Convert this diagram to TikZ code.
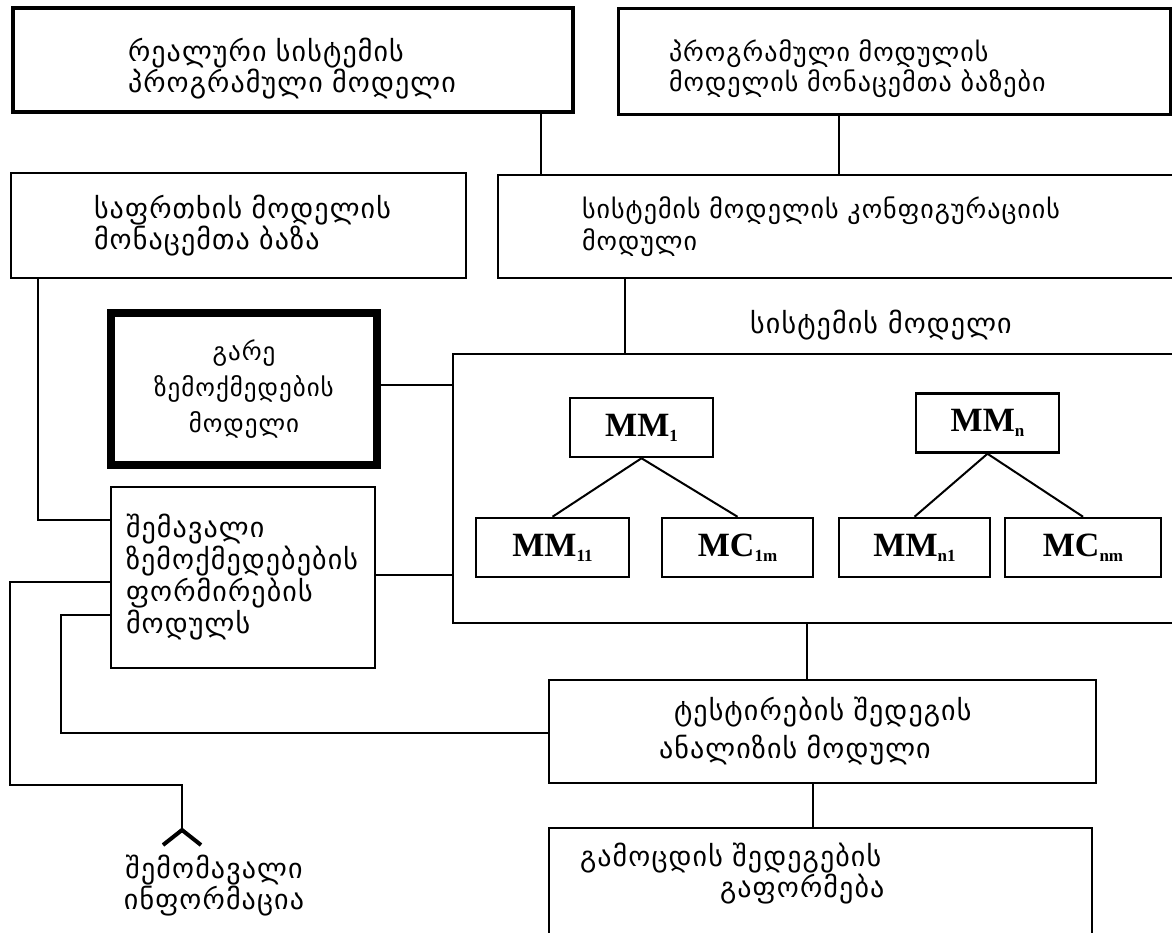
\documentclass[tikz,border=0pt]{standalone}
\usepackage{fontspec}
\setmainfont{Liberation Serif}
\newfontfamily\geofont[LetterSpace=4]{DejaVu Sans}
\usetikzlibrary{arrows.meta}
\newcommand{\mmsub}[1]{\raisebox{-5pt}{\fontsize{17pt}{17pt}\selectfont #1}}
\tikzset{
  geo/.style 2 args={font=\geofont\fontsize{#1}{#2}\selectfont},
  box/.style={draw, line width=2.5pt, inner sep=0pt, align=left},
  mm/.style={draw, line width=2.5pt, inner sep=0pt, minimum height=59pt,
    font=\bfseries\fontsize{34pt}{36pt}\selectfont},
  wire/.style={draw, line width=2pt},
}
\begin{document}
\begin{tikzpicture}[x=1pt,y=-1pt]
  \useasboundingbox (0,0) rectangle (1172,933);

  \node[box, line width=4pt, geo={28pt}{30pt}, minimum width=560pt, minimum height=104pt,
    text width=330pt, inner xsep=115pt] (rsm) at (293,60)
    {\rule{0pt}{40pt}რეალური~სისტემის\\პროგრამული~მოდელი};
  \node[box, line width=3pt, geo={26pt}{30pt}, minimum width=552pt, minimum height=106pt,
    text width=450pt, inner xsep=51pt] (pmdb) at (894,62)
    {\rule{0pt}{36pt}პროგრამული~მოდულის\\მოდელის~მონაცემთა~ბაზები};
  \node[box, geo={28pt}{26pt}, minimum width=455pt, minimum height=105pt,
    text width=289pt, inner xsep=83pt] (threat) at (238.5,225.5)
    {საფრთხის~მოდელის\\მონაცემთა~ბაზა};
  \node[box, geo={26pt}{32pt}, minimum width=702pt, minimum height=103pt,
    text width=534pt, inner xsep=84pt] (cfg) at (849,226.5)
    {სისტემის~მოდელის~კონფიგურაციის\\მოდული};
  \node[box, line width=8pt, geo={25pt}{36pt}, align=center, minimum width=266pt,
    minimum height=152pt] (ext) at (244,389)
    {გარე\\ზემოქმედების\\მოდელი};
  \node[box, geo={28pt}{32pt}, minimum width=264pt, minimum height=181pt,
    text width=234pt, inner xsep=15pt] (input) at (243,577.5)
    {შემავალი\\ზემოქმედებების\\ფორმირების\\მოდულს};
  \node[box, minimum width=747pt, minimum height=269pt] (sys) at (826.5,488.5) {};
  \node[geo={28pt}{30pt}] (sysLabel) at (881,325) {სისტემის~მოდელი};
  \node[box, geo={28pt}{38pt}, minimum width=547pt, minimum height=103pt,
    text width=327pt, inner xsep=110pt] (ana) at (822.5,731.5)
    {\hspace*{15pt}ტესტირების~შედეგის\\ანალიზის~მოდული};
  \node[box, geo={28pt}{28pt}, minimum width=543pt, minimum height=107pt,
    text width=481pt, inner xsep=31pt] (out) at (820.5,881.5)
    {გამოცდის~შედეგების\\\hspace*{140pt}გაფორმება\rule[-22pt]{0pt}{1pt}};
  \node[geo={28pt}{30pt}, align=center] (inf) at (214,886) {შემომავალი\\ინფორმაცია};

  \def \Mods {
    MM1/641.5/427.5/143/MM\mmsub{1},
    MMn/987.5/423/143/MM\mmsub{n},
    MM11/552.5/547.5/153/MM\mmsub{11},
    MC1m/737.5/547.5/151/MC\mmsub{1m},
    MMn1/914.5/547.5/151/MM\mmsub{n1},
    MCnm/1083/547.5/156/MC\mmsub{nm}}
  \def \Edges {MM1/MM11, MM1/MC1m, MMn/MMn1, MMn/MCnm}

  \foreach \id / \x / \y / \w / \t in \Mods {
    \node[mm, minimum width=\w pt] (\id) at (\x, \y) {\t};
  }
  \foreach \a / \b in \Edges {
    \path[wire] (\a.south) -- (\b.north);
  }

  \coordinate (xA) at (541,0);
  \coordinate (xB) at (839,0);
  \coordinate (xC) at (625,0);
  \coordinate (xD) at (38,0);
  \coordinate (xE) at (807,0);
  \coordinate (xF) at (813,0);
  \coordinate (xG) at (61,0);
  \coordinate (xH) at (10,0);
  \coordinate (yA) at (0,385);
  \coordinate (yB) at (0,575);
  \coordinate (yC) at (0,520);
  \coordinate (yD) at (0,582);
  \coordinate (yE) at (0,615);
  \coordinate (yF) at (0,733);
  \coordinate (yG) at (0,785);
  \coordinate (tip) at (182,847);

  \path[wire] (rsm.south -| xA) -- (cfg.north -| xA);
  \path[wire] (pmdb.south -| xB) -- (cfg.north -| xB);
  \path[wire] (cfg.south -| xC) -- (sys.north -| xC);
  \path[wire] (threat.south -| xD) |- (input.west |- yC);
  \path[wire] (ext.east |- yA) -- (sys.west |- yA);
  \path[wire] (input.east |- yB) -- (sys.west |- yB);
  \path[wire] (sys.south -| xE) -- (ana.north -| xE);
  \path[wire] (ana.south -| xF) -- (out.north -| xF);
  \path[wire] (input.west |- yE) -| (xG |- yF) -- (ana.west |- yF);
  \path[wire, -{Straight Barb[reversed, length=15pt, width=38pt, line width=4pt]}]
    (input.west |- yD) -| (xH |- yG) -| (tip);
\end{tikzpicture}
\end{document}
